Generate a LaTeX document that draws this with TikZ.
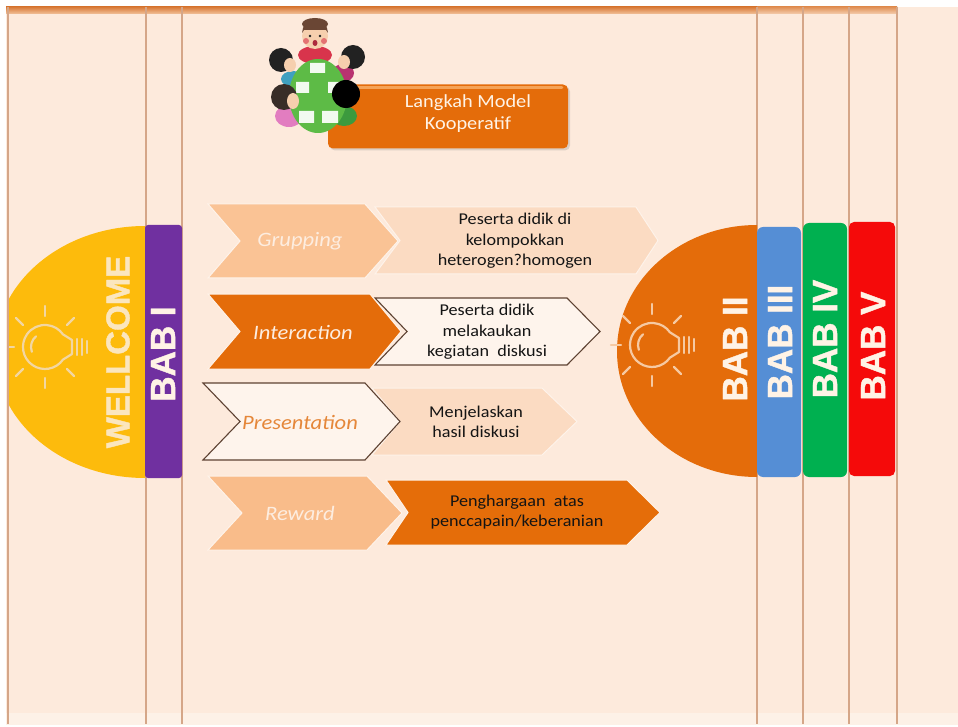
\documentclass[tikz,border=0pt]{standalone}
\usepackage{fontspec}
\setmainfont{Carlito}[FakeStretch=1.1]
\newfontfamily\babfont{Liberation Sans}[FakeBold=1.2]
\usetikzlibrary{shadows}

% palette
\definecolor{bgpeach}{HTML}{FDEADC}
\definecolor{bottomband}{HTML}{FDF1E7}
\definecolor{edgeline}{HTML}{D5A688}
\definecolor{topdark}{HTML}{D97B38}
\definecolor{toplight}{HTML}{F2C29C}
\definecolor{sunyellow}{HTML}{FDBB0C}
\definecolor{babpurple}{HTML}{7030A0}
\definecolor{baborange}{HTML}{E46C0A}
\definecolor{babblue}{HTML}{558ED5}
\definecolor{babgreen}{HTML}{00B050}
\definecolor{babred}{HTML}{F50A0A}
\definecolor{softorange}{HTML}{FAC395}
\definecolor{softorangeb}{HTML}{F9BC8A}
\definecolor{paleorange}{HTML}{FBDBC2}
\definecolor{paperwhite}{HTML}{FEF4EC}
\definecolor{darkbrown}{HTML}{5E4232}
\definecolor{gapline}{HTML}{FEF3EA}
\definecolor{cream}{HTML}{FFF3E6}
\definecolor{welltext}{HTML}{FBE6BE}
\definecolor{bulbyellow}{HTML}{F2D6A2}
\definecolor{bulborange}{HTML}{F6C9A2}
\definecolor{labelwhite}{HTML}{FDEDE0}
\definecolor{labelorange}{HTML}{E5873A}
\definecolor{titlehl}{HTML}{F5A357}
\definecolor{kidgreen}{HTML}{5DBB46}
\definecolor{kidred}{HTML}{D8344C}
\definecolor{kidteal}{HTML}{3FA0C0}
\definecolor{kidmag}{HTML}{B83370}
\definecolor{kidpink}{HTML}{E27DC0}
\definecolor{kidshirt}{HTML}{3C9A3E}
\definecolor{skin}{HTML}{F6CFAE}
\definecolor{hairdark}{HTML}{222222}
\definecolor{hairbrown}{HTML}{6A4634}

% chevron: style, x0, x1, ytop, ybot, point depth, notch depth
\newcommand\chevronpath[7]{%
  \path[#1] (#2,#4) -- ({#3-#6},#4) -- (#3,{(#4+#5)/2}) -- ({#3-#6},#5)
    -- (#2,#5) -- ({#2+#7},{(#4+#5)/2}) -- cycle;}

% outline light bulb lying on its side: centre x, centre y, colour
\newcommand\bulbicon[3]{%
  \begin{scope}[shift={(#1,#2)}, draw=#3, line width=2.2, line cap=round, line join=round]
    \draw (18,12.6) arc[start angle=35, end angle=325, radius=22] -- (27,-7) -- (27,7) -- cycle;
    \draw (-9,-10.7) arc[start angle=230, end angle=160, radius=14];
    \draw (32,-8) -- (32,8) (37,-8) -- (37,8) (42,-6) -- (42,6);
    \foreach \a in {45,90,135,180,225,270,315} \draw (\a:31) -- (\a:41);
  \end{scope}}

\tikzset{
  vline/.style={draw=edgeline, line width=2.2},
  babtext/.style={font=\babfont\bfseries\fontsize{35}{40}\selectfont, text=cream, rotate=90, inner sep=0},
  steplabel/.style={font=\itshape\fontsize{20.5}{24}\selectfont, inner sep=0},
  desc/.style={font=\fontsize{16.5}{20.5}\selectfont, align=center, text=black!92, inner sep=0},
  lightchev/.style={fill=#1, draw=gapline, line width=1},
  outlinechev/.style={fill=paperwhite, draw=darkbrown, line width=1.1},
}

\begin{document}
\begin{tikzpicture}[x=1pt, y=-1pt]
\useasboundingbox (0,0) rectangle (958,727);
\fill[white] (0,0) rectangle (958,727);
\fill[bgpeach] (6,7) rectangle (958,725);
\fill[bottomband] (6,713) rectangle (958,725);

% top band
\shade[top color=topdark, bottom color=toplight] (6,7) rectangle (757,14);
\shade[top color=topdark!70!toplight, bottom color=toplight!70!bgpeach] (757,7) rectangle (897,14);

% vertical page lines
\foreach \x in {8,146,182,757,803,849,897}
  \draw[vline] (\x,7) -- (\x,724);

% left half disc and first tab
\begin{scope}
  \clip (9,0) rectangle (145,727);
  \fill[sunyellow] (145,352) ellipse [x radius=150, y radius=126];
\end{scope}
\begin{scope}
  \clip (9,200) rectangle (145,500);
  \bulbicon{45}{347}{bulbyellow}
\end{scope}
\fill[babpurple, rounded corners=3] (145,225) rectangle (182,478);
\node[babtext, text=welltext, font=\babfont\bfseries\fontsize{33}{38}\selectfont] (wellcome) at (118,352) {WELLCOME};
\node[babtext] (bab1) at (163,354) {BAB I};

% right half disc and tabs
\begin{scope}
  \clip (0,0) rectangle (757,727);
  \fill[baborange] (757,351) ellipse [x radius=140, y radius=126];
\end{scope}
\bulbicon{652}{345}{bulborange}
\fill[babblue, rounded corners=6] (757,227) rectangle (801,477);
\fill[babgreen, rounded corners=6] (803,223) rectangle (847,477);
\fill[babred, rounded corners=5] (849,222) rectangle (895,476);
\node[babtext] (bab2) at (735,349) {BAB II};
\node[babtext] (bab3) at (780,342) {BAB III};
\node[babtext] (bab4) at (825,339) {BAB IV};
\node[babtext] (bab5) at (873,346) {BAB V};

% step rows: description arrows first, then the labelled chevrons
\chevronpath{lightchev=paleorange}{375}{658}{207}{274}{22}{25}
\chevronpath{outlinechev}{375}{600}{298}{365}{33}{32}
\chevronpath{lightchev=paleorange}{372}{577}{388}{455}{35}{28}
\chevronpath{lightchev=baborange!95!orange}{386}{660}{480}{545}{33}{22}

\chevronpath{lightchev=softorange}{208}{398}{204}{278}{33}{32}
\chevronpath{lightchev=baborange}{208}{401}{294}{369}{31}{32}
\chevronpath{outlinechev}{203}{400}{383}{460}{35}{37}
\chevronpath{lightchev=softorangeb}{208}{402}{476}{550}{35}{34}

\node[steplabel, text=labelwhite] (grupping) at (300,241) {Grupping};
\node[steplabel, text=labelwhite] (interaction) at (303,332) {Interaction};
\node[steplabel, text=labelorange] (presentation) at (300,422) {Presentation};
\node[steplabel, text=labelwhite] (reward) at (300,513) {Reward};

\node[desc] (gdesc) at (515,241) {Peserta didik di\\kelompokkan\\heterogen?homogen};
\node[desc] (idesc) at (487,332) {Peserta didik\\melakaukan\\kegiatan\ \ diskusi};
\node[desc] (pdesc) at (476,422) {Menjelaskan\\hasil diskusi};
\node[desc] (rdesc) at (517,512) {Penghargaan\ \ atas\\penccapain/keberanian};

% title box
\node[fill=baborange, rounded corners=5, minimum width=240, minimum height=64, inner sep=0,
      drop shadow={opacity=.25, shadow xshift=2pt, shadow yshift=-2pt}] (titlebox) at (448,116.5) {};
\draw[titlehl, line width=2.5, line cap=round] (334,87.5) -- (562,87.5);
\node[font=\fontsize{18.5}{22}\selectfont, text=cream, align=center, inner sep=0] (titletext) at (468,114) {Langkah Model\\Kooperatif};

% group of children around a table
\fill[kidred] (315,55) ellipse [x radius=17, y radius=9];
\fill[kidteal] (293,79) ellipse [x radius=12, y radius=8];
\fill[kidmag] (343,73) ellipse [x radius=11, y radius=9];
\fill[kidpink] (289,116) ellipse [x radius=14, y radius=11];
\fill[kidshirt] (344,116) ellipse [x radius=13, y radius=10];
\fill[kidgreen] (318,96) ellipse [x radius=29, y radius=37];
\fill[white!92!kidgreen]
  (310,63) rectangle (325,73)
  (296,82) rectangle (309,93)
  (328,82) rectangle (341,93)
  (299,111) rectangle (314,123)
  (322,111) rectangle (338,123);
% heads
\fill[skin] (315,36) circle [radius=13];
\fill[hairbrown] (302,33) arc[start angle=180, end angle=360, radius=13] -- (326,30) -- (304,30) -- cycle;
\fill[hairbrown] (315,24) ellipse [x radius=13, y radius=6];
\fill[kidred!60!skin] (306,41) circle [radius=3] (324,41) circle [radius=3];
\fill[kidred!80!black] (315,43) ellipse [x radius=2.5, y radius=3];
\fill[hairdark] (310,36) circle [radius=1.3] (320,36) circle [radius=1.3];
\fill[hairdark] (281,60) circle [radius=12];
\fill[skin] (290,65) ellipse [x radius=6, y radius=7];
\fill[hairdark] (353,57) circle [radius=12];
\fill[skin] (344,62) ellipse [x radius=6, y radius=7];
\fill[hairdark!70!hairbrown] (284,97) circle [radius=13];
\fill[skin] (293,101) ellipse [x radius=6, y radius=8];
\fill[black] (346,94) circle [radius=14];
\end{tikzpicture}
\end{document}
